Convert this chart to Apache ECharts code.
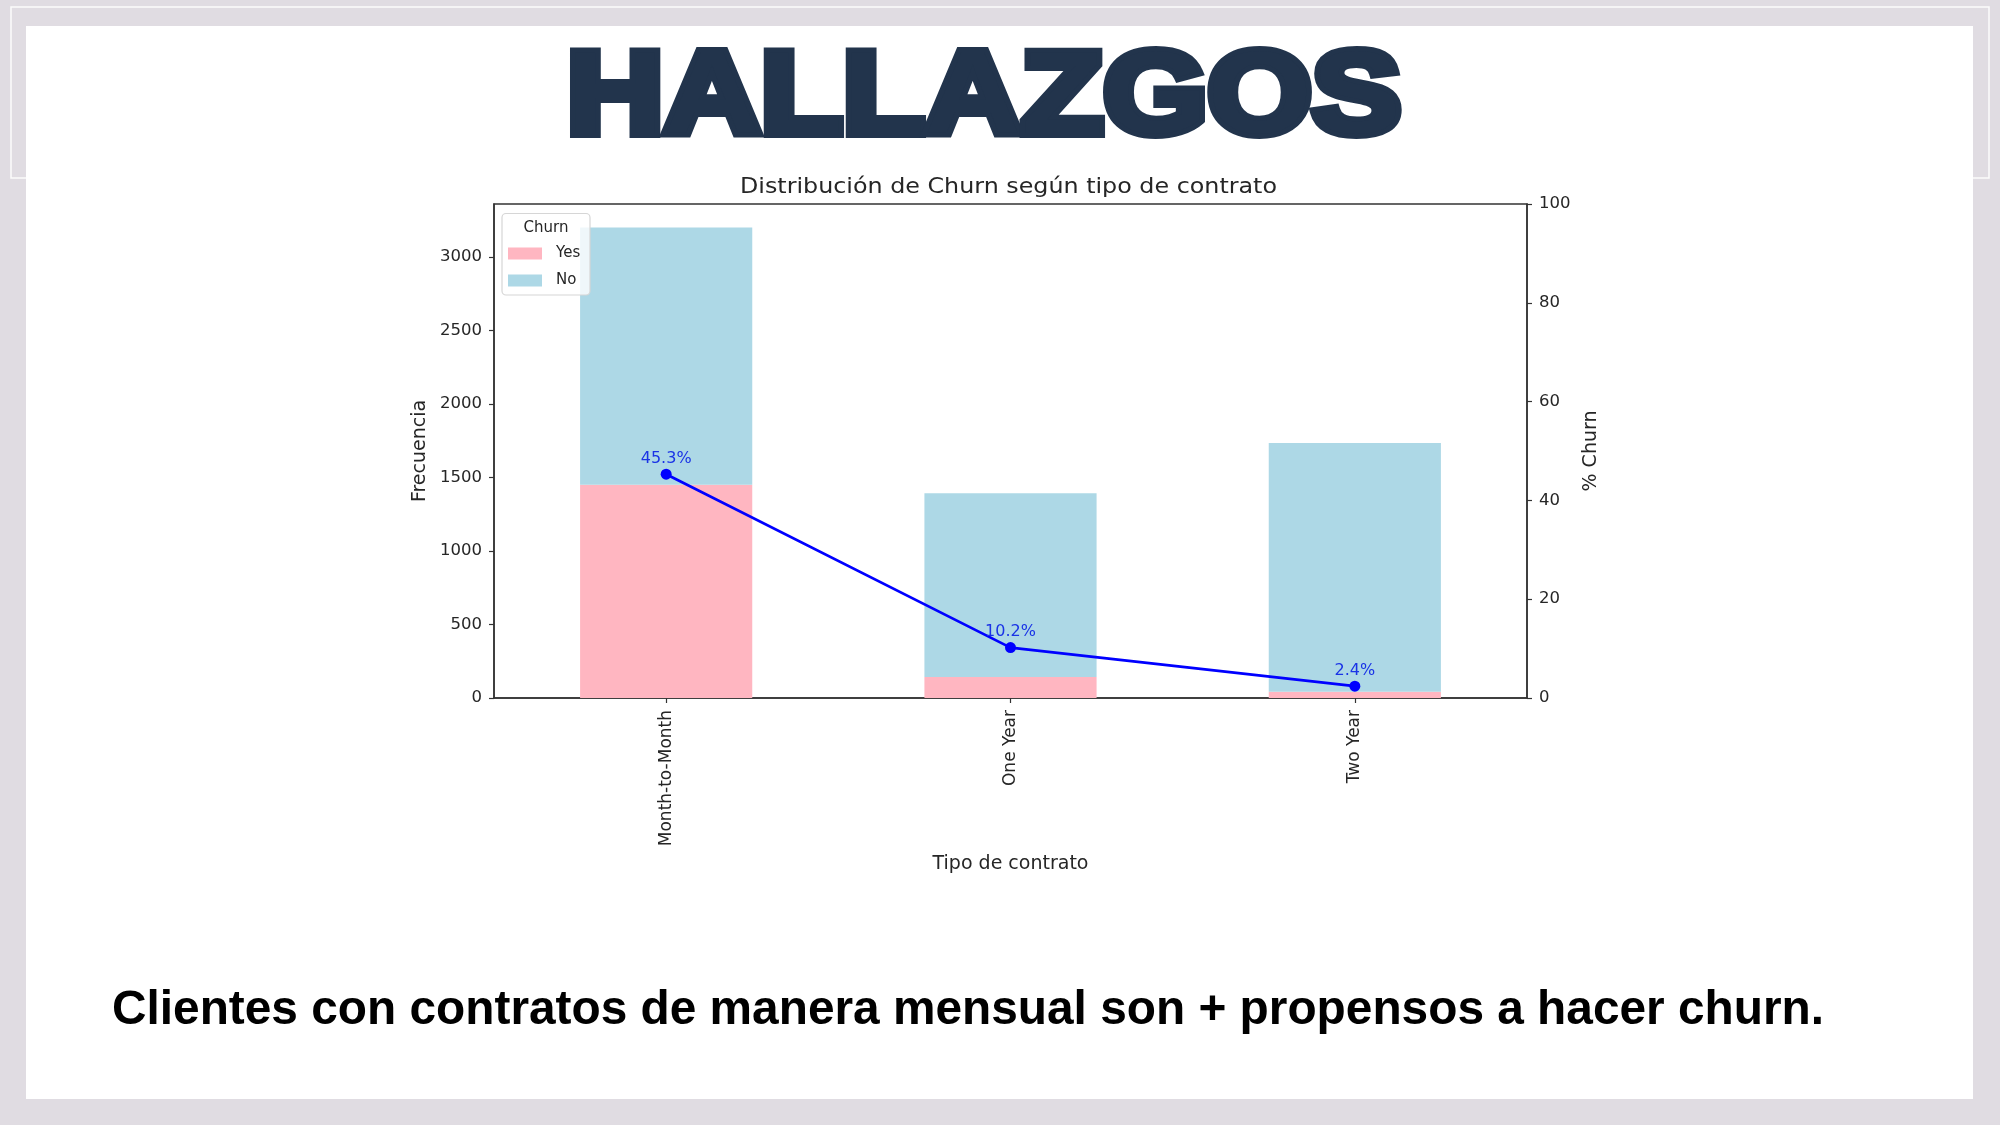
<!DOCTYPE html>
<html>
<head>
<meta charset="utf-8">
<script src="https://cdn.jsdelivr.net/npm/echarts@6/dist/echarts.min.js"></script>
<style>
html,body{margin:0;padding:0;background:#e0dce2;}
#chart{width:2000px;height:1125px;}
</style>
</head>
<body>
<div id="chart"></div>
<script>
// ---- data ----
var categories = ['Month-to-Month', 'One Year', 'Two Year'];
var churnYes = [1450, 142, 42];
var churnNo = [1750, 1251, 1693];
var churnPct = [45.3, 10.2, 2.4];
var leftTicks = [0, 500, 1000, 1500, 2000, 2500, 3000];
var rightTicks = [0, 20, 40, 60, 80, 100];

var slideTitle = 'HALLAZGOS';
var chartTitle = 'Distribución de Churn según tipo de contrato';
var footnote = 'Clientes con contratos de manera mensual son + propensos a hacer churn.';

var axisFont = 'DejaVu Sans';
var textColor = '#262626';

function measure(text, font) {
  var c = document.createElement('canvas').getContext('2d');
  c.font = font;
  return c.measureText(text).width;
}
var footFont = 'bold 49px "Liberation Sans"';
var footScale = 1712 / measure(footnote, footFont);
var bigFont = 'bold 117px "Liberation Sans"';
var bigStroke = 10;
var bigScale = 846 / (measure(slideTitle, bigFont) + bigStroke);
var titleFont = '20.5px "DejaVu Sans"';
var titleScale = 537 / measure(chartTitle, titleFont);

var chart = echarts.init(document.getElementById('chart'), null, {renderer: 'canvas'});

var option = {
  backgroundColor: '#e0dce2',
  animation: false,
  graphic: {
    elements: [
      {type: 'rect', z: -5, shape: {x: 11, y: 7, width: 1978, height: 171},
       style: {fill: 'none', stroke: '#fbfbfb', lineWidth: 1.6}},
      {type: 'rect', z: -4, shape: {x: 26, y: 26, width: 1947, height: 1073},
       style: {fill: '#ffffff'}},
      {type: 'text', z: 1, x: 984, y: 101, scaleX: bigScale,
       style: {text: slideTitle, font: bigFont, fill: '#22344c', stroke: '#22344c', lineWidth: bigStroke,
               lineJoin: 'miter', align: 'center', verticalAlign: 'middle'}},
      {type: 'text', z: 1, x: 112, y: 1010, scaleX: footScale,
       style: {text: footnote, font: footFont, fill: '#000000',
               align: 'left', verticalAlign: 'middle'}},
      {type: 'text', z: 1, x: 1008.5, y: 188,
       scaleX: titleScale,
       style: {text: chartTitle, font: titleFont, fill: textColor,
               align: 'center', verticalAlign: 'middle'}},
      {type: 'rect', z: 3, shape: {x: 502, y: 213.5, width: 88, height: 81.5, r: 4},
       style: {fill: 'rgba(255,255,255,0.8)', stroke: '#d6d6d6', lineWidth: 1.2}},
      {type: 'text', z: 4, x: 546, y: 228,
       style: {text: 'Churn', font: '15px "DejaVu Sans"', fill: textColor,
               align: 'center', verticalAlign: 'middle'}}
    ]
  },
  grid: {
    left: 494, right: 473, top: 204, bottom: 427,
    show: true, borderColor: '#333333', borderWidth: 1.5, backgroundColor: 'transparent'
  },
  legend: {
    data: ['Yes', 'No'],
    orient: 'vertical',
    left: 508, top: 246,
    padding: 0,
    itemWidth: 34, itemHeight: 12, itemGap: 12,
    icon: 'rect',
    selectedMode: false,
    z: 5,
    textStyle: {fontFamily: axisFont, fontSize: 15, lineHeight: 14, color: textColor, padding: [0, 0, 0, 9]}
  },
  xAxis: {
    type: 'category',
    data: categories,
    name: 'Tipo de contrato',
    nameLocation: 'middle',
    nameGap: 157,
    nameTextStyle: {fontFamily: axisFont, fontSize: 19, color: textColor},
    axisLine: {show: true, lineStyle: {color: '#333333', width: 1.5}},
    axisTick: {show: true, alignWithLabel: true, length: 5, lineStyle: {color: '#333333', width: 1.2}},
    axisLabel: {rotate: 90, margin: 12, fontFamily: axisFont, fontSize: 17, color: textColor},
    splitLine: {show: false}
  },
  yAxis: [
    {
      type: 'value',
      min: 0, max: 3360,
      position: 'left',
      name: 'Frecuencia',
      nameLocation: 'middle',
      nameRotate: 90,
      nameGap: 62,
      nameTextStyle: {fontFamily: axisFont, fontSize: 19, color: textColor},
      axisLine: {show: true, lineStyle: {color: '#333333', width: 1.5}},
      axisTick: {show: true, length: 5, customValues: leftTicks, lineStyle: {color: '#333333', width: 1.2}},
      axisLabel: {margin: 12, customValues: leftTicks, fontFamily: axisFont, fontSize: 16.5, color: textColor,
                  formatter: function (v) { return String(v); }},
      splitLine: {show: false}
    },
    {
      type: 'value',
      min: 0, max: 100, interval: 20,
      position: 'right',
      name: '% Churn',
      nameLocation: 'middle',
      nameRotate: 90,
      nameGap: 49,
      nameTextStyle: {fontFamily: axisFont, fontSize: 19, color: textColor},
      axisLine: {show: true, lineStyle: {color: '#333333', width: 1.5}},
      axisTick: {show: true, length: 5, customValues: rightTicks, lineStyle: {color: '#333333', width: 1.2}},
      axisLabel: {margin: 12, customValues: rightTicks, fontFamily: axisFont, fontSize: 16.5, color: textColor,
                  formatter: function (v) { return String(v); }},
      splitLine: {show: false}
    }
  ],
  series: [
    {
      name: 'Yes', type: 'bar', stack: 'churn', barWidth: '50%',
      itemStyle: {color: '#ffb6c1'},
      data: churnYes
    },
    {
      name: 'No', type: 'bar', stack: 'churn', barWidth: '50%',
      itemStyle: {color: '#add8e6'},
      data: churnNo
    },
    {
      name: '% Churn', type: 'line', yAxisIndex: 1,
      data: churnPct,
      symbol: 'circle', symbolSize: 11,
      z: 6,
      lineStyle: {color: '#0000ff', width: 2.7},
      itemStyle: {color: '#0000ff'},
      label: {
        show: true, position: 'top', distance: 2,
        formatter: function (p) { return p.value.toFixed(1) + '%'; },
        fontFamily: axisFont, fontSize: 16, color: '#1a33e6'
      }
    }
  ]
};
chart.setOption(option);
</script>
</body>
</html>
